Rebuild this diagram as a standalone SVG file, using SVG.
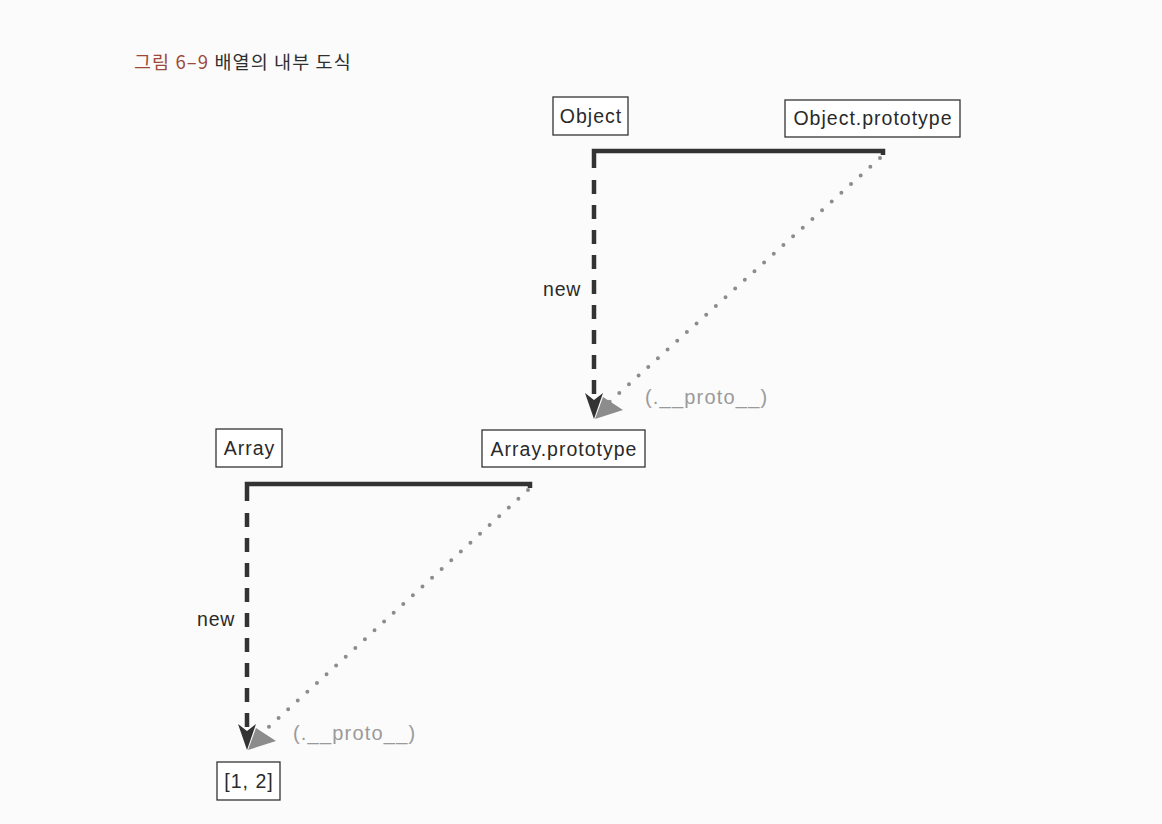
<svg xmlns="http://www.w3.org/2000/svg" width="1162" height="824" viewBox="0 0 1162 824">
<style>
  .box rect { fill: #ffffff; stroke: #333333; stroke-width: 1.3; }
  .lbl { font-family: "Liberation Sans", "Noto Sans CJK KR", sans-serif; font-size: 19.5px; letter-spacing: 1px; fill: #2a2a2a; text-anchor: middle; }
  .new { font-family: "Liberation Sans", "Noto Sans CJK KR", sans-serif; font-size: 19.5px; letter-spacing: 0.8px; fill: #2a2a2a; }
  .proto { font-family: "Liberation Sans", "Noto Sans CJK KR", sans-serif; font-size: 20px; letter-spacing: 1.2px; fill: #9a9a9a; }
  .solid { fill: none; stroke: #333333; stroke-width: 4.5; }
  .dash { fill: none; stroke: #333333; stroke-width: 4.5; stroke-dasharray: 14 11; }
  .dot { fill: none; stroke: #8c8c8c; stroke-width: 4; stroke-linecap: round; stroke-dasharray: 0 13; }
  .headb { fill: #333333; }
  .headg { fill: #8c8c8c; }
</style>
<rect width="1162" height="824" fill="#fbfbfb"/>
<text x="134" y="69" font-family="'Noto Sans CJK KR', sans-serif" font-size="18.5px" letter-spacing="1.1" fill="#2f2f2f"><tspan fill="#9c4a3a">그림 6–9</tspan> 배열의 내부 도식</text>

<g id="connectors">
  <path class="solid" d="M883,155 V151 H594 V168"/>
  <path class="dash" d="M594,180 V402"/>
  <polygon class="headb" points="594,419 585,393 594,400 603,393"/>
  <path class="dot" d="M880,158 L606,405"/>
  <polygon class="headg" points="595,419 603,397 623,410"/>
  <text class="new" x="543" y="296">new</text>
  <text class="proto" x="645" y="404">(.__proto__)</text>

  <path class="solid" d="M530,488 V484 H247 V501"/>
  <path class="dash" d="M247,513 V733"/>
  <polygon class="headb" points="247,750 238,724 247,731 256,724"/>
  <path class="dot" d="M528,490 L259,736"/>
  <polygon class="headg" points="248,750 256,728 276,741"/>
  <text class="new" x="197" y="626">new</text>
  <text class="proto" x="293" y="740">(.__proto__)</text>
</g>

<g id="object" class="box">
  <rect x="553" y="97" width="75" height="38"/>
  <text class="lbl" x="591" y="123">Object</text>
</g>
<g id="object-prototype" class="box">
  <rect x="785" y="100" width="175" height="37"/>
  <text class="lbl" x="873" y="125">Object.prototype</text>
</g>
<g id="array" class="box">
  <rect x="216" y="429" width="66" height="38"/>
  <text class="lbl" x="249.5" y="455">Array</text>
</g>
<g id="array-prototype" class="box">
  <rect x="482" y="430" width="163" height="37"/>
  <text class="lbl" x="564" y="456">Array.prototype</text>
</g>
<g id="array-instance" class="box">
  <rect x="217" y="762" width="63" height="38"/>
  <text class="lbl" x="249" y="788">[1, 2]</text>
</g>
</svg>
